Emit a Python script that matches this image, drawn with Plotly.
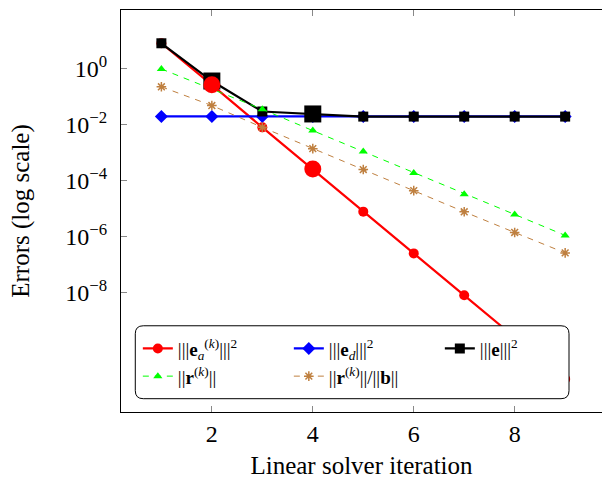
import plotly.graph_objects as go

iterations = [1, 2, 3, 4, 5, 6, 7, 8, 9]
err_a = [8.3, 0.27, 8.1e-3, 2.6e-4, 7.8e-6, 2.5e-7, 7.9e-9, 2.5e-10, 7.9e-12]
err_d = [0.02, 0.02, 0.02, 0.02, 0.02, 0.02, 0.02, 0.02, 0.02]
err_total = [8.3, 0.37, 0.030, 0.0245, 0.0197, 0.0197, 0.0197, 0.0197, 0.0197]
res_norm = [1.0, 0.19, 0.036, 6.2e-3, 1.1e-3, 1.9e-4, 3.3e-5, 6.2e-6, 1.1e-6]
res_rel = [0.23, 0.049, 8.1e-3, 1.4e-3, 2.5e-4, 4.4e-5, 7.7e-6, 1.4e-6, 2.6e-7]
highlight_iters = [2, 4]

names = [
    "|||<b>e</b><sub><i>a</i></sub><sup>(<i>k</i>)</sup>|||<sup>2</sup>",
    "|||<b>e</b><sub><i>d</i></sub>|||<sup>2</sup>",
    "|||<b>e</b>|||<sup>2</sup>",
    "||<b>r</b><sup>(<i>k</i>)</sup>||",
    "||<b>r</b><sup>(<i>k</i>)</sup>||/||<b>b</b>||",
]
y_tick_vals = [1, 1e-2, 1e-4, 1e-6, 1e-8]
y_tick_text = ["10<sup>0</sup>", "10<sup>−2</sup>", "10<sup>−4</sup>", "10<sup>−6</sup>", "10<sup>−8</sup>"]
x_tick_vals = [2, 4, 6, 8]

RED, BLUE, BLACK, GREEN, BROWN = "#ff0000", "#0000ff", "#000000", "#00ff00", "#bf8040"

fig = go.Figure()
fig.add_trace(go.Scatter(x=iterations, y=err_a, name=names[0], mode="lines+markers",
                         line=dict(color=RED, width=2.2),
                         marker=dict(symbol="circle", size=10, color=RED), legendrank=1))
fig.add_trace(go.Scatter(x=iterations, y=err_d, name=names[1], mode="lines+markers",
                         line=dict(color=BLUE, width=2.2),
                         marker=dict(symbol="diamond", size=10, color=BLUE), legendrank=2))
fig.add_trace(go.Scatter(x=iterations, y=err_total, name=names[2], mode="lines+markers",
                         line=dict(color=BLACK, width=2.2),
                         marker=dict(symbol="square", size=10, color=BLACK), legendrank=3))
fig.add_trace(go.Scatter(x=iterations, y=res_norm, name=names[3], mode="lines+markers",
                         line=dict(color=GREEN, width=1, dash="6px,6px"),
                         marker=dict(symbol="triangle-up", size=8, color=GREEN), legendrank=4))
fig.add_trace(go.Scatter(x=iterations, y=res_rel, name=names[4], mode="lines+markers",
                         line=dict(color=BROWN, width=1, dash="6px,6px"),
                         marker=dict(symbol="asterisk-open", size=8, color=BROWN,
                                     line=dict(color=BROWN, width=1.5)), legendrank=5))

# highlighted (larger) points
idx = [iterations.index(i) for i in highlight_iters]
fig.add_trace(go.Scatter(x=highlight_iters, y=[err_total[i] for i in idx], mode="markers",
                         marker=dict(symbol="square", size=17, color=BLACK),
                         showlegend=False, hoverinfo="skip"))
fig.add_trace(go.Scatter(x=highlight_iters, y=[err_a[i] for i in idx], mode="markers",
                         marker=dict(symbol="circle", size=17, color=RED),
                         showlegend=False, hoverinfo="skip"))

# rounded legend box
x0, x1, y0, y1 = 0.0297, 0.9314, 0.0331, 0.2145
rx, ry = 0.0166, 0.0199
path = (f"M{x0+rx},{y1} L{x1-rx},{y1} Q{x1},{y1} {x1},{y1-ry} L{x1},{y0+ry} "
        f"Q{x1},{y0} {x1-rx},{y0} L{x0+rx},{y0} Q{x0},{y0} {x0},{y0+ry} "
        f"L{x0},{y1-ry} Q{x0},{y1} {x0+rx},{y1} Z")
fig.add_shape(type="path", path=path, xref="paper", yref="paper",
              fillcolor="white", line=dict(color="black", width=1), layer="above")

FONT = "Liberation Serif"
fig.update_layout(
    width=602, height=479,
    margin=dict(l=121, r=0, t=10, b=67),
    paper_bgcolor="white", plot_bgcolor="white",
    font=dict(family=FONT, size=24, color="black"),
    showlegend=True,
    legend=dict(orientation="h", x=0.035, y=0.205, xanchor="left", yanchor="top",
                bgcolor="rgba(0,0,0,0)", borderwidth=0,
                font=dict(family=FONT, size=19),
                entrywidth=106, entrywidthmode="pixels", itemsizing="trace"),
    xaxis=dict(range=[0.2, 9.73], tickvals=x_tick_vals, ticks="inside", ticklen=6,
               tickcolor="#888888", showline=True, linecolor="black", linewidth=1.2,
               mirror="ticks", showgrid=False, zeroline=False, automargin=False,
               title=dict(text="Linear solver iteration", font=dict(size=25), standoff=12),
               tickfont=dict(size=24)),
    yaxis=dict(type="log", range=[-12.28, 2.11], tickvals=y_tick_vals, ticktext=y_tick_text,
               ticks="inside", ticklen=6, tickcolor="#888888", showline=True,
               linecolor="black", linewidth=1.2, mirror=False, showgrid=False,
               zeroline=False, ticklabelstandoff=8, automargin=False,
               title=dict(text="Errors (log scale)", font=dict(size=25), standoff=28),
               tickfont=dict(size=24)),
)

fig.write_html("out.html", config={"displayModeBar": False},
               post_script="document.body.style.margin='0';document.body.style.overflow='hidden';")
